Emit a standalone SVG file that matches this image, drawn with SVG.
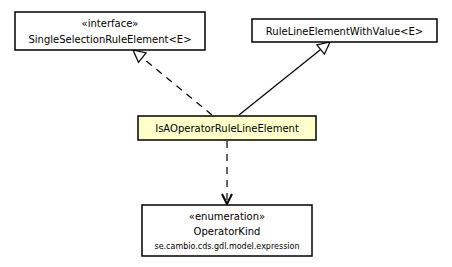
<svg xmlns="http://www.w3.org/2000/svg" width="452" height="267" viewBox="0 0 452 267">
  <style>
    .box { fill: #ffffff; stroke: #000000; stroke-width: 1.5; }
    .focus { fill: #ffffcc; stroke: #000000; stroke-width: 1.5; }
    text { font-family: "DejaVu Sans", "Liberation Sans", sans-serif; font-size: 10px; fill: #000000; text-anchor: middle; }
    .small { font-size: 8px; }
    .edge { fill: none; stroke: #000000; stroke-width: 1.2; }
    .dashed { stroke-dasharray: 7,6; }
  </style>
  <defs>
    <marker id="hollow" markerWidth="16" markerHeight="16" refX="14" refY="8" orient="auto" markerUnits="userSpaceOnUse">
      <path d="M2,2 L14,8 L2,14 Z" fill="#ffffff" stroke="#000000" stroke-width="1.2"/>
    </marker>
    <marker id="open" markerWidth="14" markerHeight="14" refX="12" refY="7" orient="auto" markerUnits="userSpaceOnUse">
      <path d="M2,2 L12,7 L2,12" fill="none" stroke="#000000" stroke-width="2"/>
    </marker>
  </defs>

  <g id="connectors">
    <line class="edge dashed" x1="212" y1="115" x2="133" y2="50" marker-end="url(#hollow)"/>
    <line class="edge" x1="239" y1="115" x2="330" y2="42" marker-end="url(#hollow)"/>
    <line class="edge dashed" x1="227" y1="141" x2="227" y2="204" stroke-width="1.5" marker-end="url(#open)"/>
  </g>

  <g id="SingleSelectionRuleElement">
    <rect class="box" x="15" y="12" width="190" height="38"/>
    <text x="110" y="27">«interface»</text>
    <text x="110" y="43">SingleSelectionRuleElement&lt;E&gt;</text>
  </g>

  <g id="RuleLineElementWithValue">
    <rect class="box" x="252" y="19" width="185" height="23"/>
    <text x="344.5" y="35">RuleLineElementWithValue&lt;E&gt;</text>
  </g>

  <g id="IsAOperatorRuleLineElement">
    <rect class="focus" x="138" y="116" width="178" height="24"/>
    <text x="227" y="132">IsAOperatorRuleLineElement</text>
  </g>

  <g id="OperatorKind">
    <rect class="box" x="142" y="205" width="170" height="51"/>
    <text x="227" y="220">«enumeration»</text>
    <text x="227" y="235">OperatorKind</text>
    <text class="small" x="227" y="249">se.cambio.cds.gdl.model.expression</text>
  </g>
</svg>
